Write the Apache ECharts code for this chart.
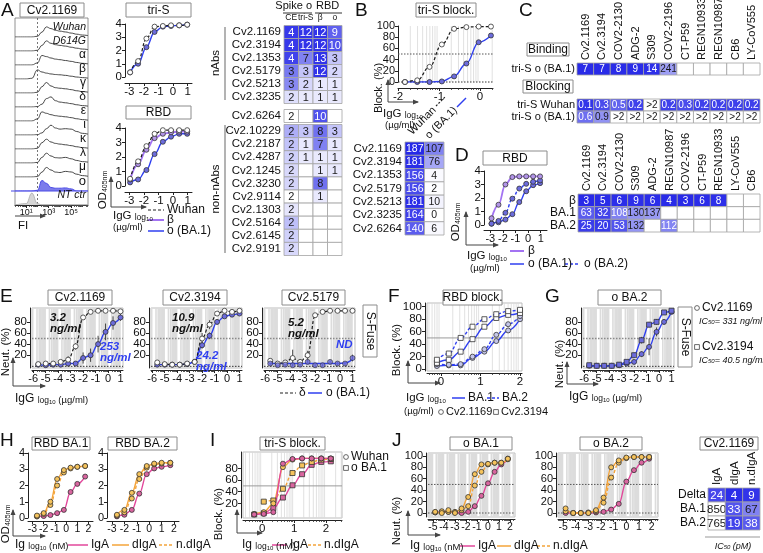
<!DOCTYPE html>
<html><head><meta charset="utf-8"><title>Figure</title>
<script src="https://cdn.jsdelivr.net/npm/echarts@6/dist/echarts.min.js"></script>
<style>html,body{margin:0;padding:0;background:#fff;}#chart{width:763px;height:553px;}</style>
</head><body><div id="chart"></div>
<script>
// ===================== DATA =====================
// ---- Panel A: flow histograms (relative count per log10 FI position)
const histLogFI   = [0, 1, 1.5, 2, 2.4, 2.8, 3.2, 3.6, 4, 4.5, 5, 5.5, 6, 6.5];
const histLabels  = ['Wuhan','D614G','α','β','γ','δ','ε','ι','κ','λ','μ','o','NT ctr'];
const histWuhan   = [0,0,0,0.05,0.35,0.72,0.6,0.48,0.42,0.36,0.28,0.2,0.14,0.1];
const histD614G   = [0,0,0,0.05,0.4,0.72,0.55,0.45,0.4,0.35,0.27,0.2,0.14,0.1];
const histAlpha   = [0,0,0,0.15,0.68,0.6,0.5,0.42,0.38,0.32,0.26,0.18,0.12,0.08];
const histBeta    = [0,0,0.05,0.65,0.5,0.42,0.36,0.32,0.3,0.26,0.2,0.14,0.1,0.06];
const histGamma   = [0,0,0,0.05,0.45,0.75,0.5,0.38,0.34,0.3,0.24,0.16,0.1,0.06];
const histDelta   = [0,0,0,0.03,0.2,0.6,0.72,0.45,0.35,0.3,0.24,0.16,0.1,0.06];
const histEpsilon = [0,0,0,0.15,0.65,0.55,0.45,0.38,0.34,0.3,0.24,0.16,0.1,0.06];
const histIota    = [0,0,0,0.02,0.15,0.45,0.7,0.5,0.42,0.45,0.42,0.25,0.12,0.06];
const histKappa   = [0,0,0,0.05,0.45,0.7,0.5,0.4,0.35,0.3,0.24,0.16,0.1,0.06];
const histLambda  = [0,0,0,0.04,0.4,0.7,0.5,0.38,0.36,0.4,0.3,0.18,0.1,0.06];
const histMu      = [0,0,0,0.03,0.35,0.68,0.5,0.35,0.32,0.4,0.36,0.2,0.1,0.05];
const histOmicron = [0,0,0,0.05,0.75,0.55,0.25,0.2,0.2,0.22,0.15,0,0,0];
const histNTctr   = [0,0.1,0.85,0.1,0,0,0,0,0,0,0,0,0,0];
const histTicks   = [1,3,5];
const histTickLbl = ['10¹','10³','10⁵'];

// ---- Panel A: ELISA (IgG log10 µg/ml vs OD405nm)
const aLogIgG   = [-2.95,-2.4,-1.83,-1.27,-0.7,-0.14,0.42,0.97];
const triSWuhan = [0.35,1.2,2.9,3.8,3.85,3.9,3.9,3.95];
const triSBA1   = [0.35,1.0,2.25,3.4,3.8,3.85,3.9,3.95];
const rbdWuhan  = [0.5,1.7,2.75,3.6,3.85,3.85,3.85,3.85];
const rbdBeta   = [0.45,1.5,2.5,3.3,3.6,3.7,3.75,3.75];
const rbdBA1    = [0.25,0.45,1.1,2.2,3.05,3.4,3.6,3.6];

// ---- Panel A: heatmap
const hmAcols  = ['CE','tri-S','β','o'];
const hmArowsN = ['Cv2.1169','Cv2.3194','Cv2.1353','Cv2.5179','Cv2.5213','Cv2.3235'];
const hmArowsM = ['Cv2.6264'];
const hmArowsX = ['Cv2.10229','Cv2.2187','Cv2.4287','Cv2.1245','Cv2.3230','Cv2.9114','Cv2.1303','Cv2.5164','Cv2.6145','Cv2.9191'];
const hmA_CE     = [4,4,4,3,3,2, 2, 2,2,2,2,2,2,2,2,2,2];
const hmA_CEtint = [0.92,0.92,0.88,0.62,0.55,0.15, 0, 0.38,0.28,0.22,0.18,0.2,0,0.12,0.3,0.22,0.18];
const hmA_triS   = [12,12,7,3,2,1, null, 3,1,1,null,null,null,null,null,null,null];
const hmA_beta   = [12,12,13,12,1,1, 10, 8,7,1,1,8,1,null,null,null,null];
const hmA_omi    = [9,10,3,2,1,1, null, 3,1,1,1,null,null,null,null,null,null];

// ---- Panel B
const bLogIgG = [-1.83,-1.53,-1.23,-0.93,-0.63,-0.33,-0.03,0.27];
const bWuhan  = [0,3,27,67,95,98,99,99];
const bBA1    = [0,0,0,1,10,33,71,83];
const hmBrows  = ['Cv2.1169','Cv2.3194','Cv2.1353','Cv2.5179','Cv2.5213','Cv2.3235','Cv2.6264'];
const hmBwuhan = [187,181,156,156,181,164,140];
const hmBomi   = [107,76,4,2,10,0,6];

// ---- Panel C
const hmCcols = ['Cv2.1169','Cv2.3194','COV2-2130','ADG-2','S309','COV2-2196','CT-P59','REGN10933','REGN10987','CB6','LY-CoV555'];
const hmCbindOmi    = [7,7,8,9,14,241,null,null,null,null,null];
const hmCblockWuhan = [0.1,0.3,0.5,0.2,'>2',0.2,0.3,0.2,0.2,0.2,0.2];
const hmCblockOmi   = [0.6,0.9,'>2','>2','>2','>2','>2','>2','>2','>2','>2'];

// ---- Panel D
const dLogIgG = [-2.9,-2.35,-1.8,-1.25,-0.7,-0.15,0.4,0.95];
const dBeta   = [0.5,1.5,3.0,3.55,3.6,3.6,3.6,3.6];
const dBA1    = [0.1,0.2,0.4,0.8,1.7,2.5,2.95,3.1];
const dBA2    = [0.1,0.3,0.9,1.95,2.7,3.05,3.2,3.3];
const hmDcols = ['Cv2.1169','Cv2.3194','COV2-2130','S309','ADG-2','REGN10987','COV2-2196','CT-P59','REGN10933','LY-CoV555','CB6'];
const hmDbeta = [3,5,6,9,6,4,3,6,8,null,null];
const hmDBA1  = [63,32,108,130,137,null,null,null,null,null,null];
const hmDBA2  = [25,20,53,132,null,112,null,null,null,null,null];

// ---- Panel E (S-Fuse neutralisation)
const eLogIgG = [-5.6,-5.0,-4.4,-3.8,-3.2,-2.6,-2.0,-1.4,-0.8,-0.2,0.4,1.0];
const e1Delta = [4,5,5,8,12,36,88,98,100,100,100,99];     const e1DeltaErr = [2,2,2,3,6,6,4,2,0,0,0,1];
const e1BA1   = [3,2,3,3,5,5,15,20,40,62,78,88];          const e1BA1Err   = [2,3,2,3,4,3,10,12,15,15,12,6];
const e2Delta = [7,4,3,3,5,8,50,75,95,100,98,100];        const e2DeltaErr = [3,2,2,2,3,5,10,8,4,0,2,0];
const e2BA1   = [3,3,3,3,4,8,38,55,80,90,93,95];          const e2BA1Err   = [2,2,2,2,2,4,6,6,5,3,3,2];
const e3Delta = [10,5,7,15,8,20,92,98,100,100,100,100];   const e3DeltaErr = [4,3,3,15,5,8,4,2,0,0,0,0];
const e3BA1   = [5,2,3,2,3,8,2,2,8,5,5,15];               const e3BA1Err   = [3,2,2,2,2,4,2,2,3,3,3,6];
const e3BA1Fit= [5,5,5,5,5,5,5,5,5,5,6,13];

// ---- Panel F (RBD blocking)
const fLogIgG   = [-0.1,0.2,0.5,0.8,1.1,1.4,1.7,2.0];
const f3194BA2  = [15,25,50,68,80,88,93,95];
const f3194BA1  = [10,15,28,48,68,82,87,90];
const f1169BA2  = [8,7,8,20,32,55,72,85];
const f1169BA1  = [5,6,6,18,28,45,62,80];

// ---- Panel G (o BA.2 neutralisation)
const gLogIgG = [-5.6,-5.0,-4.4,-3.8,-3.2,-2.6,-2.0,-1.4,-0.8,-0.2,0.4,1.0];
const g1169   = [1,1,1,1,2,5,8,22,35,62,80,98];     const g1169Err = [0,0,0,0,1,2,3,5,15,8,5,3];
const g3194   = [2,1,1,1,3,8,20,47,75,80,97,100];   const g3194Err = [1,0,0,0,2,3,5,6,5,5,3,2];

// ---- Panel H (Ig log10 nM vs OD)
const hLogIg    = [-2.6,-2.0,-1.4,-0.8,-0.2,0.4,1.0,1.7];
const h1IgA     = [0.1,0.12,0.18,0.3,0.5,1.6,2.1,2.55];
const h1dIgA    = [0.15,0.3,1.0,2.4,2.95,3.1,3.15,3.2];
const h1ndIgA   = [0.1,0.25,0.8,2.0,2.8,3.05,3.15,3.2];
const h2IgA     = [0.1,0.2,0.5,1.5,2.7,3.05,3.15,3.25];
const h2dIgA    = [0.2,0.5,1.55,2.7,3.2,3.35,3.4,3.4];
const h2ndIgA   = [0.15,0.35,1.2,2.4,3.1,3.3,3.35,3.4];

// ---- Panel I (tri-S blocking, Ig log10 nM)
const iLogIg      = [-0.25,0.05,0.35,0.65,0.95,1.25,1.55,1.85,2.15];
const iIgAWuhan   = [1,2,5,88,96,97,97,97,97];
const iNdWuhan    = [2,5,20,82,95,97,97,97,97];
const iIgABA1     = [1,3,12,30,51,70,86,91,92];
const iNdBA1      = [null,23,25,45,72,85,91,95,96];

// ---- Panel J
const jLogIg  = [-4.8,-4.2,-3.6,-3.0,-2.4,-1.8,-1.2,-0.6,0,0.6,1.2,1.8];
const j1IgA   = [1,2,2,1,0,2,12,30,52,72,85,95];
const j1dIgA  = [2,0,5,0,8,28,68,85,86,88,88,95];
const j1ndIgA = [1,3,2,2,5,12,48,72,85,88,88,94];
const j2IgA   = [0,0,0,0,1,2,6,16,55,75,88,95];
const j2dIgA  = [8,0,0,0,5,27,80,92,97,98,98,98];
const j2ndIgA = [3,0,0,1,3,18,62,88,96,98,98,98];
const hmJcols  = ['IgA','dIgA','n.dIgA'];
const hmJrows  = ['Delta','BA.1','BA.2'];
const hmJdelta = [24,4,9];
const hmJBA1   = [850,33,67];
const hmJBA2   = [765,19,38];

// ===================== BUILD =====================
const FONT='"Liberation Sans", Arial, Helvetica, sans-serif';
const C_BLUE='#2f3ff0', C_BLK='#1c1c1c', C_PURP='#a373f2', C_PINK='#e2479b', C_ORNG='#f4a43a';
const F_BLUE='#6c6cdc', F_PURP='#b295e8', F_PINK='#d9659f', F_YEL='#f5c35c', F_WHITE='#ffffff', F_GRBL='#c4c6ea';
const PI=Math.PI;
const G=[],XA=[],YA=[],S=[],GR=[];

function grid(l,t,w,h,frame){G.push({left:l,top:t,width:w,height:h,containLabel:false,show:!!frame,borderColor:'#bdbdbd',borderWidth:1});return G.length-1;}
function hiddenAxis(list,gi,min,max){list.push({gridIndex:gi,type:'value',min:min,max:max,show:false});return list.length-1;}
function valAxis(list,gi,pos,a){
  const lab={show:true,customValues:a.ticks,fontSize:a.fs||11.5,color:'#111',fontFamily:FONT,margin:a.margin||3};
  if(a.fmt) lab.formatter=a.fmt;
  list.push({gridIndex:gi,type:'value',position:pos,min:a.min,max:a.max,offset:a.off||0,
    axisLine:{show:true,onZero:false,lineStyle:{color:'#222',width:1}},
    axisTick:{show:true,length:a.tl||3,customValues:a.ticks,lineStyle:{color:'#222',width:1}},
    axisLabel:lab,splitLine:{show:false},minorTick:{show:false}});
  const idx=list.length-1;
  if(a.minor){list.push({gridIndex:gi,type:'value',position:pos,min:a.min,max:a.max,offset:a.off||0,
    axisLine:{show:false,onZero:false},axisTick:{show:true,length:2,customValues:a.minor,lineStyle:{color:'#333',width:0.8}},
    axisLabel:{show:false},splitLine:{show:false}});}
  return idx;
}
function logMinor(min,max){const r=[];for(let d=Math.floor(min);d<=Math.ceil(max);d++){for(let k=2;k<=9;k++){const v=d+Math.log10(k);if(v>min&&v<max)r.push(+v.toFixed(4));}}return r;}
function zip(xs,ys){return xs.map((x,i)=>[x,ys[i]]);}
function curve(xi,yi,xs,ys,o){
  const s={type:'line',xAxisIndex:xi,yAxisIndex:yi,data:zip(xs,ys),smooth:o.smooth??0.4,smoothMonotone:'x',connectNulls:true,
    symbol:o.sym||'none',showSymbol:!!o.sym,symbolSize:o.ss||5,
    itemStyle:{color:o.fill||'#fff',borderColor:'#333',borderWidth:0.8},
    lineStyle:{color:o.color,width:o.w||1.4,type:o.dash||'solid'},
    z:o.z||5,silent:true,animation:false,clip:o.clip??true};
  if(o.area) s.areaStyle={color:o.area,opacity:1};
  S.push(s);
}
function dots(xi,yi,xs,ys,sym,fill){S.push({type:'scatter',xAxisIndex:xi,yAxisIndex:yi,data:zip(xs,ys),symbol:sym,symbolSize:5,itemStyle:{color:fill,borderColor:'#333',borderWidth:0.8},z:6,silent:true,animation:false});}
function errBars(xi,yi,xs,ys,es){
  const d=[];xs.forEach((x,i)=>{if(es[i]>0&&ys[i]!=null)d.push([x,ys[i]-es[i],ys[i]+es[i]]);});
  S.push({type:'custom',xAxisIndex:xi,yAxisIndex:yi,data:d,encode:{x:0,y:[1,2]},silent:true,z:4,clip:false,animation:false,
    renderItem:(p,api)=>{const a=api.coord([api.value(0),api.value(1)]),b=api.coord([api.value(0),api.value(2)]);return{type:'line',shape:{x1:a[0],y1:a[1],x2:b[0],y2:b[1]},style:{stroke:'#333',lineWidth:0.9}};}});
}
function vlines(xi,yi,yv,vals,style){
  S.push({type:'custom',xAxisIndex:xi,yAxisIndex:yi,data:vals.map(v=>[v,yv]),encode:{x:0,y:1},silent:true,z:1,clip:true,animation:false,
    renderItem:(p,api)=>{const cs=p.coordSys;const x=api.coord([api.value(0),api.value(1)])[0];return{type:'line',shape:{x1:x,y1:cs.y,x2:x,y2:cs.y+cs.height},style:Object.assign({},style)};}});
}
function hlines(xi,yi,xv,vals,style){
  S.push({type:'custom',xAxisIndex:xi,yAxisIndex:yi,data:vals.map(v=>[xv,v]),encode:{x:0,y:1},silent:true,z:2,clip:false,animation:false,
    renderItem:(p,api)=>{const cs=p.coordSys;const y=api.coord([api.value(0),api.value(1)])[1];return{type:'line',shape:{x1:cs.x,y1:y,x2:cs.x+cs.width,y2:y},style:Object.assign({},style)};}});
}
function mix(t){t=Math.max(0,Math.min(1,t));const b=[38,40,232];const c=i=>Math.round(255+(b[i]-255)*t);return 'rgb('+c(0)+','+c(1)+','+c(2)+')';}
function heat(o){
  const gi=grid(o.l,o.t,o.w,o.h,false);
  XA.push({gridIndex:gi,type:'category',position:'top',data:o.cols,axisLine:{show:false},axisTick:{show:false},splitLine:{show:false},
    axisLabel:{show:!!o.showCols,interval:0,fontSize:o.cfs||11,color:'#111',fontFamily:FONT,margin:o.cm??3}});
  const xi=XA.length-1;
  YA.push({gridIndex:gi,type:'category',inverse:true,data:o.rows,axisLine:{show:false},axisTick:{show:false},splitLine:{show:false},
    axisLabel:{show:true,interval:0,fontSize:o.rfs||11.5,color:'#111',fontFamily:FONT,margin:o.rm??3}});
  const yi=YA.length-1;
  const cells=[];
  for(let r=0;r<o.rows.length;r++)for(let c=0;c<o.cols.length;c++){const cell=o.cell(r,c);cells.push([c,r,cell[0],cell[1]]);}
  const thr=o.thr??0.6, vfs=o.vfs||11;
  S.push({type:'custom',xAxisIndex:xi,yAxisIndex:yi,data:cells.map(c=>[c[0],c[1]]),encode:{x:0,y:1},silent:true,z:3,animation:false,
    renderItem:(p,api)=>{const c=cells[p.dataIndex];const pt=api.coord([c[0],c[1]]);const sz=api.size([1,1]);const w=sz[0],h=sz[1];
      return{type:'group',children:[
        {type:'rect',shape:{x:pt[0]-w/2,y:pt[1]-h/2,width:w,height:h},style:{fill:mix(c[3]),stroke:'#a3a3a3',lineWidth:0.8}},
        {type:'text',x:pt[0],y:pt[1]+0.5,style:{text:c[2],fill:c[3]>thr?'#fff':'#1a1a1a',font:vfs+'px '+FONT,textAlign:'center',textVerticalAlign:'middle',align:'center',verticalAlign:'middle'}}]};}});
  if(o.vHeaders){const n=o.cols.length;o.cols.forEach((s,i)=>gText(o.l+o.w*(i+0.5)/n+0.5,o.t-3,s,{rot:PI/2,fs:o.cfs||11}));}
}
const lbl=v=>(v===null||v===undefined)?'':String(v);

// graphics helpers
function gText(x,y,text,o){o=o||{};const fs=o.fs||12;const al=o.align||'left',va=o.va||'middle';
  GR.push({type:'text',x:x,y:y,rotation:o.rot||0,silent:true,z:100,style:{text:text,x:0,y:0,fill:o.color||'#111',
    font:(o.it?'italic ':'')+(o.bold?'bold ':'')+fs+'px '+FONT,textAlign:al,textVerticalAlign:va,align:al,verticalAlign:va}});}
function gRich(x,y,parts,o){o=o||{};const rich={};let text='';const col=o.color||'#111';
  parts.forEach((p,i)=>{rich['p'+i]={fontSize:p[1],fontFamily:FONT,fill:col,color:col,fontStyle:p[2]?'italic':'normal',fontWeight:p[3]?'bold':'normal',verticalAlign:'bottom'};text+='{p'+i+'|'+p[0]+'}';});
  const al=o.align||'left',va=o.va||'middle';
  GR.push({type:'text',x:x,y:y,rotation:o.rot||0,silent:true,z:100,style:{text:text,rich:rich,x:0,y:0,font:'12px '+FONT,fill:col,textAlign:al,textVerticalAlign:va,align:al,verticalAlign:va}});}
function gLine(x1,y1,x2,y2,o){o=o||{};GR.push({type:'line',shape:{x1:x1,y1:y1,x2:x2,y2:y2},silent:true,z:o.z||90,style:{stroke:o.color||'#222',lineWidth:o.w||1,lineDash:o.dash||null}});}
function gArrow(x1,y1,x2,y2){gLine(x1,y1,x2,y2,{color:'#444',w:1});const dx=x2-x1,dy=y2-y1,L=Math.hypot(dx,dy),ux=dx/L,uy=dy/L,nx=-uy,ny=ux;
  GR.push({type:'polygon',silent:true,z:100,shape:{points:[[x2+ux,y2+uy],[x2-ux*5+nx*2.5,y2-uy*5+ny*2.5],[x2-ux*5-nx*2.5,y2-uy*5-ny*2.5]]},style:{fill:'#444'}});}
function gBox(x,y,w,h,label,fs){GR.push({type:'rect',shape:{x:x,y:y,width:w,height:h},silent:true,z:95,style:{fill:'#fff',stroke:'#8c8c8c',lineWidth:1}});gText(x+w/2,y+h/2+0.5,label,{align:'center',fs:fs||12});}
function gBoxV(x,y,w,h,label){GR.push({type:'rect',shape:{x:x,y:y,width:w,height:h},silent:true,z:95,style:{fill:'#fff',stroke:'#8c8c8c',lineWidth:1}});gText(x+w/2+0.5,y+h/2,label,{align:'center',rot:-PI/2,fs:12});}
function gCirc(cx,cy,fill){GR.push({type:'circle',shape:{cx:cx,cy:cy,r:2.4},silent:true,z:100,style:{fill:fill||'#fff',stroke:'#444',lineWidth:0.8}});}
function gSq(cx,cy,fill){GR.push({type:'rect',shape:{x:cx-2.4,y:cy-2.4,width:4.8,height:4.8},silent:true,z:100,style:{fill:fill||'#fff',stroke:'#444',lineWidth:0.8}});}
function letter(x,y,s){gText(x,y,s,{fs:19,va:'top'});}
const SUBIGG=[['IgG ',11.5],['log',8.5],['10',6]];
const yTicks100=[0,20,40,60,80,100];
const DASH=[3,2];

// ---------- Panel A: histograms ----------
letter(1,1,'A');
gBox(20,3,64,14,'Cv2.1169');
GR.push({type:'rect',shape:{x:15,y:18,width:73,height:187},silent:true,z:0,style:{fill:'none',stroke:'#777',lineWidth:0.8}});
const histAll=[histWuhan,histD614G,histAlpha,histBeta,histGamma,histDelta,histEpsilon,histIota,histKappa,histLambda,histMu,histOmicron,histNTctr];
histAll.forEach((arr,i)=>{
  const gi=grid(15,23+i*14,73,14,false);
  const xi=hiddenAxis(XA,gi,0,6.5), yi=hiddenAxis(YA,gi,0,1);
  const isO=i===11, isNT=i===12;
  curve(xi,yi,histLogFI,arr,{color:isO?'#4b4be6':(isNT?'#b0b0b0':'#333'),w:isO?1:0.9,area:isO?'#7c7ceb':(isNT?'#d6d6d6':null),smooth:0.45});
  const it=(i<2||i===12);
  gText(86,23+i*14+4,histLabels[i],{align:'right',it:it,fs:it?10.5:(isO?13:12)});
});
(function(){const gi=grid(15,18,73,187,false);
  const xi=valAxis(XA,gi,'bottom',{min:0,max:6.5,ticks:histTicks,minor:logMinor(0,6.5).concat([0,2,4,6]),fs:9,fmt:v=>histTickLbl[histTicks.indexOf(v)]||''});
  const yi=hiddenAxis(YA,gi,0,1);
  vlines(xi,yi,0,[2],{stroke:'#555',lineWidth:0.8,lineDash:[2,2]});
})();
gLine(11,191,88,191,{color:'#4b4be6',w:1.2});
gArrow(15,216,45,216);
gText(18,226,'FI',{fs:11.5});

// ---------- Panel A: tri-S & RBD ELISA ----------
gBox(126,3,65,14,'tri-S');
(function(){const gi=grid(125,24,67,53,false);
  const xi=valAxis(XA,gi,'bottom',{min:-3.3,max:1.3,ticks:[-3,-2,-1,0,1],off:6});
  const yi=valAxis(YA,gi,'left',{min:0,max:4,ticks:[0,1,2,3,4]});
  curve(xi,yi,aLogIgG,triSBA1,{color:C_BLUE,sym:'circle',fill:F_BLUE});
  curve(xi,yi,aLogIgG,triSWuhan,{color:C_BLK,dash:DASH,sym:'circle',fill:F_WHITE,w:1.2});
})();
gBox(126,106,65,13,'RBD');
(function(){const gi=grid(125,128,67,58,false);
  const xi=valAxis(XA,gi,'bottom',{min:-3.3,max:1.3,ticks:[-3,-2,-1,0,1],off:6});
  const yi=valAxis(YA,gi,'left',{min:0,max:4,ticks:[0,1,2,3,4]});
  curve(xi,yi,aLogIgG,rbdBA1,{color:C_BLUE,sym:'circle',fill:F_BLUE});
  curve(xi,yi,aLogIgG,rbdBeta,{color:C_PURP,sym:'circle',fill:F_PURP,w:1.8});
  curve(xi,yi,aLogIgG,rbdWuhan,{color:C_BLK,dash:DASH,sym:'circle',fill:F_WHITE,w:1.2});
})();
gRich(103,190,[['OD',11.5],['405nm',7]],{rot:PI/2,align:'center'});
gArrow(111,207,111,177); gArrow(111,207,146,207);
gRich(113,216,SUBIGG); gText(113,227,'(µg/ml)',{fs:9.5});
gLine(148,210,164,210,{dash:DASH,w:1.2}); gText(167,210,'Wuhan');
gLine(148,220,164,220,{color:C_PURP,w:2}); gText(167,220,'β');
gLine(148,231,164,231,{color:C_BLUE,w:1.5}); gText(167,231,'o (BA.1)');

// ---------- Panel A: heatmap ----------
const tA=v=>v==null?0:Math.min(1,Math.pow(v/12,0.9))*0.95;
function cellA(off){return (r,c)=>{const i=r+off;
  if(c===0) return [lbl(hmA_CE[i]),hmA_CEtint[i]];
  const v=[null,hmA_triS,hmA_beta,hmA_omi][c][i]; return [lbl(v),tA(v)];};}
heat({l:284,t:25.5,w:58,h:78,cols:hmAcols,rows:hmArowsN,cell:cellA(0),showCols:true,cfs:8.5,cm:3,thr:0.7});
heat({l:284,t:109.5,w:58,h:13,cols:hmAcols,rows:hmArowsM,cell:cellA(6),thr:0.7});
heat({l:284,t:124.5,w:58,h:131,cols:hmAcols,rows:hmArowsX,cell:cellA(7),thr:0.7});
gText(312,6,'Spike o',{align:'right',fs:11}); gText(316,6,'RBD',{align:'left',fs:11});
gLine(283,13,312,13,{color:'#333'}); gLine(315,13,342,13,{color:'#333'});
gLine(225,27,225,100,{color:'#9a9a9a',w:1.5}); gLine(225,125,225,253,{color:'#9a9a9a',w:1.5});
gText(216,63,'nAbs',{rot:PI/2,align:'center',fs:11.5}); gText(216,189,'non-nAbs',{rot:PI/2,align:'center',fs:11.5});

// ---------- Panel B ----------
letter(355,1,'B');
gBox(416,3,60,14,'tri-S block.');
(function(){const gi=grid(398,26,95,56,false);
  const xi=valAxis(XA,gi,'bottom',{min:-2,max:0.32,ticks:[-2,-1,0],off:6,minor:logMinor(-2,0.32)});
  const yi=valAxis(YA,gi,'left',{min:0,max:100,ticks:yTicks100,fs:11});
  vlines(xi,yi,0,logMinor(-2,0.32),{stroke:'#d9d9d9',lineWidth:0.8});
  hlines(xi,yi,-2,[50],{stroke:'#555',lineWidth:1,lineDash:[1.5,1.5]});
  hlines(xi,yi,-2,[0],{stroke:'#333',lineWidth:1,lineDash:[1.5,1.5]});
  curve(xi,yi,bLogIgG,bBA1,{color:C_BLUE,sym:'circle',fill:F_BLUE});
  curve(xi,yi,bLogIgG,bWuhan,{color:C_BLK,dash:DASH,sym:'circle',fill:F_WHITE,w:1.2});
})();
gText(379,88,'Block. (%)',{rot:PI/2,align:'center',fs:11});
gArrow(388,102,388,80); gArrow(388,102,418,102);
gRich(383,114,SUBIGG); gText(385,125,'(µg/ml)',{fs:9.5});
heat({l:405,t:142,w:39,h:93,cols:['Wuhan','o (BA.1)'],rows:hmBrows,cell:(r,c)=>{const v=c===0?hmBwuhan[r]:hmBomi[r];return [lbl(v),v/185];},thr:0.65,vfs:10.5,rm:3});
gText(410,133,'Wuhan',{rot:PI/4,fs:11}); gLine(436,106,445,97,{dash:[2,1.5],w:1.2});
gText(427,137,'o (BA.1)',{rot:PI/4,fs:11}); gLine(457,107,466,98,{color:C_BLUE,w:1.5});

// ---------- Panel C ----------
letter(519,1,'C');
gBox(527,43,42,13,'Binding'); gBox(523,80,50,13,'Blocking');
heat({l:577,t:63,w:183,h:12,cols:hmCcols,rows:['tri-S o (BA.1)'],vHeaders:true,cfs:11,rfs:11,rm:2,
  cell:(r,c)=>{const v=hmCbindOmi[c];return [lbl(v),v==null?0:1-v/440];},thr:0.55,vfs:10});
const tBlk=v=>v==='>2'?0:1-v*0.55;
heat({l:577,t:99,w:183,h:24,cols:hmCcols,rows:['tri-S Wuhan','tri-S o (BA.1)'],rfs:11,rm:2,
  cell:(r,c)=>{const v=(r===0?hmCblockWuhan:hmCblockOmi)[c];return [lbl(v),tBlk(v)];},thr:0.55,vfs:10});

// ---------- Panel D ----------
letter(455,146,'D');
gBox(483,151,64,14,'RBD');
(function(){const gi=grid(484,171,63,54,false);
  const xi=valAxis(XA,gi,'bottom',{min:-3.5,max:1.5,ticks:[-3,-2,-1,0,1],off:5,fs:11});
  const yi=valAxis(YA,gi,'left',{min:0,max:4,ticks:[0,1,2,3,4]});
  curve(xi,yi,dLogIgG,dBA1,{color:C_BLUE,sym:'circle',fill:F_BLUE});
  curve(xi,yi,dLogIgG,dBA2,{color:C_BLUE,dash:DASH,sym:'circle',fill:F_BLUE});
  curve(xi,yi,dLogIgG,dBeta,{color:C_PURP,sym:'circle',fill:F_PURP,w:1.8});
})();
gRich(456,222,[['OD',11.5],['405nm',7]],{rot:PI/2,align:'center'});
gArrow(466,245,466,212); gArrow(466,245,498,245);
gRich(467,256,SUBIGG); gText(470,268,'(µg/ml)',{fs:9.5});
gLine(510,251,524,251,{color:C_PURP,w:2}); gText(528,251,'β');
gLine(510,264,524,264,{color:C_BLUE,w:1.5}); gText(528,264,'o (BA.1)');
gLine(565,264,580,264,{color:C_BLUE,w:1.5,dash:DASH}); gText(584,264,'o (BA.2)');
const tD=v=>v==null?0:1-v/260;
heat({l:578,t:194,w:182,h:38,cols:hmDcols,rows:['β','BA.1','BA.2'],vHeaders:true,cfs:11,rfs:12,rm:2,
  cell:(r,c)=>{const v=[hmDbeta,hmDBA1,hmDBA2][r][c];return [lbl(v),tD(v)];},thr:0.55,vfs:10});

// ---------- Panel E ----------
letter(0,287,'E');
function neut(l,t,w,h,xmin,xmax,xt){
  const gi=grid(l,t,w,h,true);
  const xi=valAxis(XA,gi,'bottom',{min:xmin,max:xmax,ticks:xt,off:2,minor:logMinor(xmin,xmax),fs:11});
  const yi=valAxis(YA,gi,'left',{min:-3,max:105,ticks:yTicks100,off:2,fs:11.5});
  vlines(xi,yi,0,logMinor(xmin,xmax),{stroke:'#dcdcdc',lineWidth:1.6});
  hlines(xi,yi,xmin,[50],{stroke:'#8a8a8a',lineWidth:1.5,lineDash:[1.5,1.5]});
  hlines(xi,yi,xmin,[0],{stroke:'#333',lineWidth:1,lineDash:[1.5,1.5]});
  return [xi,yi];
}
const eXT=[-6,-5,-4,-3,-2,-1,0,1];
gBox(48,290,64,15,'Cv2.1169'); gBox(163,290,64,15,'Cv2.3194'); gBox(282,290,63,15,'Cv2.5179');
(function(){const [xi,yi]=neut(32,308,91,60,-6.1,1.2,eXT);
  errBars(xi,yi,eLogIgG,e1BA1,e1BA1Err); errBars(xi,yi,eLogIgG,e1Delta,e1DeltaErr);
  curve(xi,yi,eLogIgG,e1BA1,{color:C_BLUE,sym:'circle',fill:F_BLUE});
  curve(xi,yi,eLogIgG,e1Delta,{color:C_BLK,dash:DASH,sym:'circle',fill:F_WHITE,w:1.2});
})();
(function(){const [xi,yi]=neut(151,308,91,60,-6.1,1.2,eXT);
  errBars(xi,yi,eLogIgG,e2BA1,e2BA1Err); errBars(xi,yi,eLogIgG,e2Delta,e2DeltaErr);
  curve(xi,yi,eLogIgG,e2BA1,{color:C_BLUE,sym:'circle',fill:F_BLUE});
  curve(xi,yi,eLogIgG,e2Delta,{color:C_BLK,dash:DASH,sym:'circle',fill:F_WHITE,w:1.2});
})();
(function(){const [xi,yi]=neut(264,308,91,60,-6.1,1.2,eXT);
  errBars(xi,yi,eLogIgG,e3BA1,e3BA1Err); errBars(xi,yi,eLogIgG,e3Delta,e3DeltaErr);
  curve(xi,yi,eLogIgG,e3BA1Fit,{color:C_BLUE});
  dots(xi,yi,eLogIgG,e3BA1,'circle',F_BLUE);
  curve(xi,yi,eLogIgG,e3Delta,{color:C_BLK,dash:DASH,sym:'circle',fill:F_WHITE,w:1.2});
})();
gText(50,318,'3.2',{bold:true,it:true,fs:11.5}); gText(50,329,'ng/ml',{bold:true,it:true,fs:11.5});
gText(100,347,'253',{bold:true,it:true,fs:11.5,color:C_BLUE}); gText(100,358,'ng/ml',{bold:true,it:true,fs:11.5,color:C_BLUE});
gText(172,318,'10.9',{bold:true,it:true,fs:11.5}); gText(172,329,'ng/ml',{bold:true,it:true,fs:11.5});
gText(196,356,'24.2',{bold:true,it:true,fs:11.5,color:C_BLUE}); gText(196,367,'ng/ml',{bold:true,it:true,fs:11.5,color:C_BLUE});
gText(288,323,'5.2',{bold:true,it:true,fs:11.5}); gText(288,334,'ng/ml',{bold:true,it:true,fs:11.5});
gText(336,345,'ND',{bold:true,it:true,fs:11.5,color:C_BLUE});
gBoxV(363,305,14,52,'S-Fuse');
gLine(280,393,296,393,{dash:DASH,w:1.2}); gText(299,393,'δ');
gLine(308,393,322,393,{color:C_BLUE,w:1.5}); gText(326,393,'o (BA.1)');
gText(6,352,'Neut. (%)',{rot:PI/2,align:'center',fs:11.5});
gArrow(13,386,13,358); gArrow(13,386,45,386);
gRich(15,399,[['IgG ',12],['log',8.5],['10',6],[' (µg/ml)',9.5]]);

// ---------- Panel F ----------
letter(388,287,'F');
gBox(443,290,59,15,'RBD block.');
(function(){const gi=grid(427,303,95,68,true);
  const xi=valAxis(XA,gi,'bottom',{min:-0.35,max:2.05,ticks:[0,1,2],off:2,minor:logMinor(-0.35,2.05)});
  const yi=valAxis(YA,gi,'left',{min:-3,max:106,ticks:yTicks100,off:2});
  vlines(xi,yi,0,logMinor(-0.35,2.05),{stroke:'#d9d9d9',lineWidth:0.8});
  hlines(xi,yi,0,[50],{stroke:'#9a9a9a',lineWidth:1});
  curve(xi,yi,fLogIgG,f1169BA1,{color:C_BLUE,sym:'circle',fill:F_GRBL});
  curve(xi,yi,fLogIgG,f1169BA2,{color:C_BLUE,dash:DASH,sym:'circle',fill:F_GRBL});
  curve(xi,yi,fLogIgG,f3194BA1,{color:C_BLUE,sym:'rect',fill:F_WHITE});
  curve(xi,yi,fLogIgG,f3194BA2,{color:C_BLUE,dash:DASH,sym:'rect',fill:F_WHITE});
})();
gText(397,350,'Block. (%)',{rot:PI/2,align:'center',fs:11.5});
gArrow(408,383,408,361); gArrow(408,383,440,383);
gRich(406,398,SUBIGG); gText(404,411,'(µg/ml)',{fs:9.5});
gLine(452,398,465,398,{color:C_BLUE,w:1.5}); gText(468,398,'BA.1');
gLine(487,398,499,398,{color:C_BLUE,w:1.5,dash:DASH}); gText(502,398,'BA.2');
gCirc(441,412,F_WHITE); gText(446,412,'Cv2.1169',{fs:11}); gSq(496,412,F_WHITE); gText(501,412,'Cv2.3194',{fs:11});

// ---------- Panel G ----------
letter(545,287,'G');
gBox(598,290,63,15,'o BA.2');
(function(){const [xi,yi]=neut(583,308,91,60,-6.1,1.2,eXT);
  errBars(xi,yi,gLogIgG,g1169,g1169Err); errBars(xi,yi,gLogIgG,g3194,g3194Err);
  curve(xi,yi,gLogIgG,g1169,{color:C_BLUE,sym:'circle',fill:F_BLUE});
  curve(xi,yi,gLogIgG,g3194,{color:C_BLUE,sym:'rect',fill:F_BLUE});
})();
gBoxV(678,307,14,60,'S-Fuse');
gCirc(697,308,F_WHITE); gText(702,308,'Cv2.1169');
gRich(699,321,[['IC',9,true],['50',6,true],['= 331 ng/ml',9,true]]);
gSq(697,347,F_WHITE); gText(702,347,'Cv2.3194');
gRich(699,360,[['IC',9,true],['50',6,true],['= 40.5 ng/ml',9,true]]);
gText(560,364,'Neut. (%)',{rot:PI/2,align:'center',fs:11.5});
gArrow(567,384,567,362); gArrow(567,384,598,384);
gRich(569,397,[['IgG ',12],['log',8.5],['10',6],[' (µg/ml)',9.5]]);

// ---------- Panel H ----------
letter(0,431,'H');
gBox(32,437,58,13,'RBD BA.1'); gBox(108,437,69,13,'RBD BA.2');
function hPlot(l,w,a,b,c){const gi=grid(l,453,w,65,false);
  const xi=valAxis(XA,gi,'bottom',{min:-3.4,max:2.4,ticks:[-3,-2,-1,0,1,2],off:3,fs:10.5});
  const yi=valAxis(YA,gi,'left',{min:0,max:4,ticks:[0,1,2,3,4],fs:11});
  curve(xi,yi,hLogIg,a,{color:C_PINK,sym:'circle',fill:F_PINK});
  curve(xi,yi,hLogIg,c,{color:C_ORNG,dash:DASH,sym:'circle',fill:F_YEL});
  curve(xi,yi,hLogIg,b,{color:C_ORNG,sym:'circle',fill:F_YEL});
}
hPlot(28,65,h1IgA,h1dIgA,h1ndIgA);
hPlot(107,72,h2IgA,h2dIgA,h2ndIgA);
gRich(6,524,[['OD',11.5],['405nm',7]],{rot:PI/2,align:'center'});
gArrow(13,536,13,510); gArrow(13,536,45,536);
const IGNM=[['Ig ',12],['log',8.5],['10',6],[' (nM)',9.5]];
gRich(15,545,IGNM);
gLine(68,545,88,545,{color:C_PINK,w:1.5}); gText(91,545,'IgA');
gLine(112,545,129,545,{color:C_ORNG,w:1.5}); gText(132,545,'dIgA');
gLine(159,545,173,545,{color:C_ORNG,w:1.5,dash:DASH}); gText(176,545,'n.dIgA');

// ---------- Panel I ----------
letter(210,431,'I');
gBox(260,437,65,13,'tri-S block.');
(function(){const gi=grid(243,452,99,66,true);
  const xi=valAxis(XA,gi,'bottom',{min:-0.6,max:2.5,ticks:[0,1,2],off:2,minor:logMinor(-0.6,2.5)});
  const yi=valAxis(YA,gi,'left',{min:-5,max:108,ticks:yTicks100,off:2});
  vlines(xi,yi,0,logMinor(-0.6,2.5),{stroke:'#d9d9d9',lineWidth:0.8});
  hlines(xi,yi,0,[50],{stroke:'#9a9a9a',lineWidth:1});
  curve(xi,yi,iLogIg,iIgABA1,{color:C_PINK,sym:'rect',fill:F_PINK});
  curve(xi,yi,iLogIg,iNdBA1,{color:C_ORNG,dash:DASH,sym:'rect',fill:F_YEL});
  curve(xi,yi,iLogIg,iNdWuhan,{color:C_ORNG,sym:'circle',fill:F_YEL,smooth:0.3});
  curve(xi,yi,iLogIg,iIgAWuhan,{color:C_PINK,sym:'circle',fill:F_PINK,smooth:0.3});
})();
gText(219,514,'Block. (%)',{rot:PI/2,align:'center',fs:11.5});
gArrow(237,533,237,510); gArrow(237,533,262,533);
gRich(242,545,IGNM);
gLine(272,545,287,545,{color:C_PINK,w:1.5}); gText(290,545,'IgA');
gLine(308,545,321,545,{color:C_ORNG,w:1.5,dash:DASH}); gText(324,545,'n.dIgA');
gCirc(346,457,F_WHITE); gText(351,457,'Wuhan'); gSq(346,468,F_WHITE); gText(351,468,'o BA.1');

// ---------- Panel J ----------
letter(392,431,'J');
gBox(450,437,62,13,'o BA.1'); gBox(580,437,62,13,'o BA.2');
function jPlot(l,w,xmin,xmax,a,b,c){const gi=grid(l,453,w,64,true);
  const xi=valAxis(XA,gi,'bottom',{min:xmin,max:xmax,ticks:[-5,-4,-3,-2,-1,0,1,2],off:2,minor:logMinor(xmin,xmax),fs:10.5});
  const yi=valAxis(YA,gi,'left',{min:-7,max:105,ticks:yTicks100,off:2,fs:11});
  vlines(xi,yi,0,logMinor(xmin,xmax),{stroke:'#dcdcdc',lineWidth:1.6});
  hlines(xi,yi,xmin,[50],{stroke:'#555',lineWidth:1,lineDash:[1.5,1.5]});
  hlines(xi,yi,xmin,[0],{stroke:'#555',lineWidth:1,lineDash:[1.5,1.5]});
  curve(xi,yi,jLogIg,a,{color:C_PINK,sym:'circle',fill:F_PINK});
  curve(xi,yi,jLogIg,c,{color:C_ORNG,dash:DASH,sym:'circle',fill:F_YEL});
  curve(xi,yi,jLogIg,b,{color:C_ORNG,sym:'circle',fill:F_YEL});
}
jPlot(428,87,-5.45,2.45,j1IgA,j1dIgA,j1ndIgA);
jPlot(558,100,-5.4,2.5,j2IgA,j2dIgA,j2ndIgA);
gText(397,521,'Neut. (%)',{rot:PI/2,align:'center',fs:11.5});
gArrow(408,535,408,511); gArrow(408,535,440,535);
gRich(410,546,IGNM);
gLine(460,546,475,546,{color:C_PINK,w:1.5}); gText(478,546,'IgA');
gLine(497,546,511,546,{color:C_ORNG,w:1.5}); gText(514,546,'dIgA');
gLine(537,546,550,546,{color:C_ORNG,w:1.5,dash:DASH}); gText(553,546,'n.dIgA');
gBox(700,437,58,13,'Cv2.1169');
const tJ=v=>v>=500?0:1-v/160;
heat({l:708,t:488,w:52,h:42,cols:hmJcols,rows:hmJrows,vHeaders:true,cfs:11.5,rfs:12,rm:2,
  cell:(r,c)=>{const v=[hmJdelta,hmJBA1,hmJBA2][r][c];return [lbl(v),tJ(v)];},thr:0.6,vfs:11.5});
gLine(705,537,760,537,{color:'#999'});
gRich(733,546,[['IC',9,true],['50',6,true],[' (pM)',9,true]],{align:'center'});

// ===================== RENDER =====================
const chart=echarts.init(document.getElementById('chart'),null,{renderer:'canvas',width:763,height:553});
chart.setOption({animation:false,backgroundColor:'#fff',textStyle:{fontFamily:FONT},grid:G,xAxis:XA,yAxis:YA,series:S,graphic:{elements:GR}});
</script></body></html>
